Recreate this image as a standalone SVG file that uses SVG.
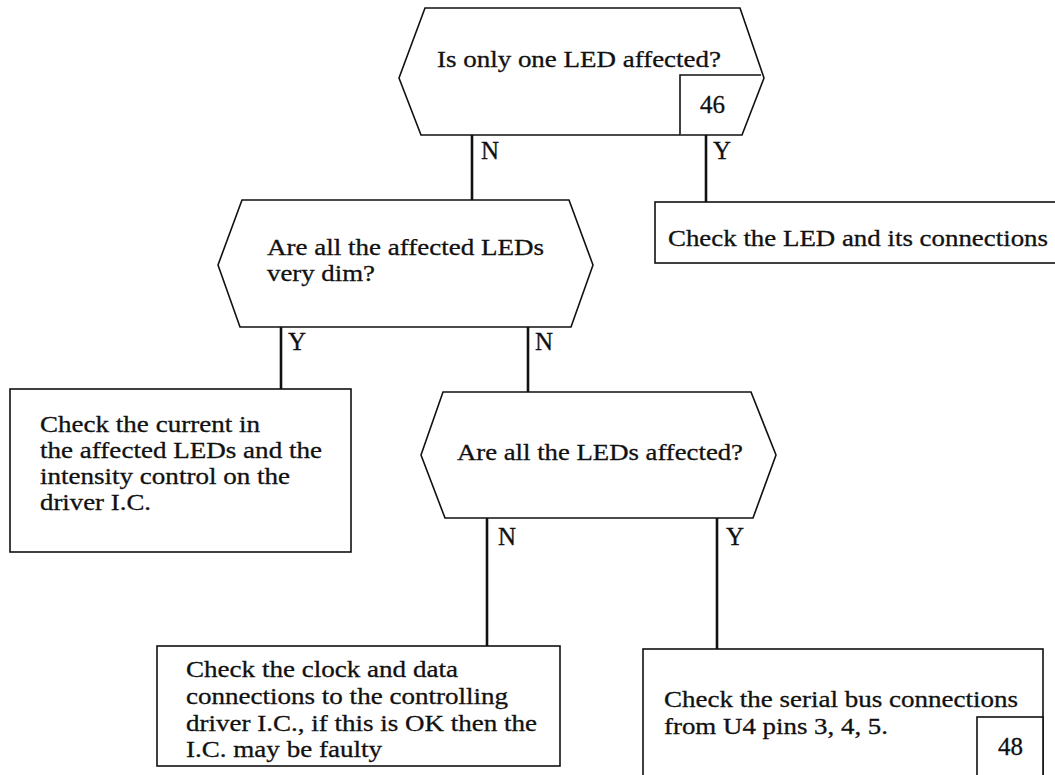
<svg xmlns="http://www.w3.org/2000/svg" width="1055" height="775" viewBox="0 0 1055 775">
<style>
.shape{fill:#fff;stroke:#111;stroke-width:1.6;stroke-linejoin:miter}
.conn{stroke:#111;stroke-width:2.6;fill:none}
text{font-family:"Liberation Serif","Times New Roman",serif;font-size:23.5px;fill:#111;stroke:#111;stroke-width:0.3}
.lbl{font-size:25px}
</style>
<rect width="1055" height="775" fill="#fff"/>
<g id="connectors">
<line class="conn" x1="472" y1="135" x2="472" y2="200"/>
<line class="conn" x1="706" y1="135" x2="706" y2="202"/>
<line class="conn" x1="281" y1="327" x2="281" y2="389"/>
<line class="conn" x1="528" y1="327" x2="528" y2="392"/>
<line class="conn" x1="487" y1="518" x2="487" y2="646"/>
<line class="conn" x1="717" y1="518" x2="717" y2="649"/>
<text class="lbl" x="481" y="159">N</text>
<text class="lbl" x="713" y="159">Y</text>
<text class="lbl" x="288" y="350">Y</text>
<text class="lbl" x="535" y="350">N</text>
<text class="lbl" x="498" y="545">N</text>
<text class="lbl" x="726" y="545">Y</text>
</g>
<g id="q1">
<polygon class="shape" points="425,8 740,8 764,78 742,135 421,135 399,78"/>
<text x="437" y="67" textLength="284" lengthAdjust="spacingAndGlyphs">Is only one LED affected?</text>
<polyline class="shape" points="680,135 680,75 761,75" fill="none"/>
<text class="lbl" x="700" y="113">46</text>
</g>
<g id="a1">
<rect class="shape" x="655" y="202" width="405" height="61"/>
<text x="668" y="246" textLength="380" lengthAdjust="spacingAndGlyphs">Check the LED and its connections</text>
</g>
<g id="q2">
<polygon class="shape" points="242,200 569,200 593,265 571,327 240,327 218,265"/>
<text x="267" y="255" textLength="277" lengthAdjust="spacingAndGlyphs">Are all the affected LEDs</text>
<text x="267" y="281" textLength="108" lengthAdjust="spacingAndGlyphs">very dim?</text>
</g>
<g id="a2">
<rect class="shape" x="10" y="389" width="341" height="163"/>
<text x="40" y="432" textLength="220" lengthAdjust="spacingAndGlyphs">Check the current in</text>
<text x="40" y="458" textLength="282" lengthAdjust="spacingAndGlyphs">the affected LEDs and the</text>
<text x="40" y="484" textLength="250" lengthAdjust="spacingAndGlyphs">intensity control on the</text>
<text x="40" y="510" textLength="111" lengthAdjust="spacingAndGlyphs">driver I.C.</text>
</g>
<g id="q3">
<polygon class="shape" points="443,392 751,392 776,455 753,518 445,518 421,455"/>
<text x="457" y="460" textLength="286" lengthAdjust="spacingAndGlyphs">Are all the LEDs affected?</text>
</g>
<g id="a3">
<rect class="shape" x="157" y="646" width="403" height="120"/>
<text x="186" y="677" textLength="272" lengthAdjust="spacingAndGlyphs">Check the clock and data</text>
<text x="186" y="704" textLength="322" lengthAdjust="spacingAndGlyphs">connections to the controlling</text>
<text x="186" y="731" textLength="351" lengthAdjust="spacingAndGlyphs">driver I.C., if this is OK then the</text>
<text x="186" y="757" textLength="196" lengthAdjust="spacingAndGlyphs">I.C. may be faulty</text>
</g>
<g id="a4">
<rect class="shape" x="643" y="649" width="400" height="140"/>
<text x="664" y="707" textLength="354" lengthAdjust="spacingAndGlyphs">Check the serial bus connections</text>
<text x="664" y="734" textLength="224" lengthAdjust="spacingAndGlyphs">from U4 pins 3, 4, 5.</text>
<rect class="shape" x="977" y="717" width="66" height="70"/>
<text class="lbl" x="998" y="755">48</text>
</g>
</svg>
